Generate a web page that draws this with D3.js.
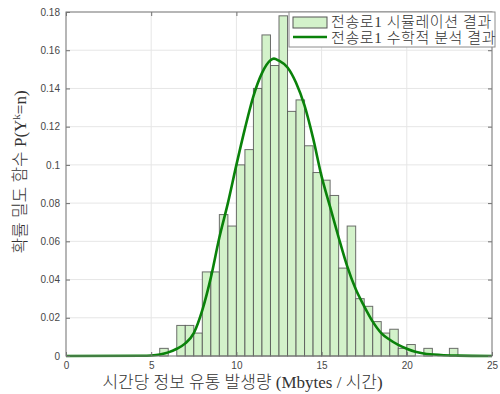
<!DOCTYPE html>
<html>
<head>
<meta charset="utf-8">
<script src="https://cdn.jsdelivr.net/npm/d3@7"></script>
<style>
  body { margin: 0; background: #fff; }
  .tick text { font-family: "Liberation Sans", Arial, sans-serif; font-size: 10px; fill: #474747; }
</style>
</head>
<body>
<div id="chart"></div>
<script>
// Histogram bins (left edge, width 0.5) and probability density per bin
const binStarts = [5.5, 6, 6.5, 7, 7.5, 8, 8.5, 9, 9.5, 10, 10.5, 11, 11.5, 12, 12.5,
  13, 13.5, 14, 14.5, 15, 15.5, 16, 16.5, 17, 17.5, 18, 18.5, 19, 19.5, 20, 20.5,
  21, 21.5, 22, 22.5];
const binWidth = 0.5;
const simValues = [0.004, 0, 0.016, 0.016, 0.012, 0.044, 0.044, 0.074, 0.068, 0.100,
  0.108, 0.140, 0.168, 0.152, 0.178, 0.128, 0.134, 0.110, 0.096, 0.092, 0.084, 0.046,
  0.068, 0.030, 0.026, 0.018, 0.012, 0.014, 0.004, 0.006, 0, 0.004, 0, 0, 0.004];

// Analytic curve
const curveX = [0, 4.5, 5, 5.5, 6, 6.5, 7, 7.5, 8, 8.5, 9, 9.5, 10, 10.5, 11, 11.5, 12,
  12.2, 12.5, 13, 13.5, 14, 14.5, 15, 15.5, 16, 16.5, 17, 17.5, 18, 18.5, 19, 19.5, 20,
  20.5, 21, 22, 23, 25];
const curveY = [0, 0.0001, 0.0003, 0.0008, 0.0019, 0.0038, 0.0066, 0.012, 0.024, 0.041,
  0.062, 0.080, 0.100, 0.119, 0.136, 0.148, 0.1547, 0.1556, 0.1545, 0.151, 0.143, 0.131,
  0.114, 0.094, 0.078, 0.062, 0.047, 0.035, 0.026, 0.018, 0.012, 0.0085, 0.0058, 0.0038,
  0.0022, 0.0013, 0.0005, 0.0002, 0];

const xTicks = [0, 5, 10, 15, 20, 25];
const yTicks = [0, 0.02, 0.04, 0.06, 0.08, 0.1, 0.12, 0.14, 0.16, 0.18];
const legendLabels = ["전송로1 시뮬레이션 결과", "전송로1 수학적 분석 결과"];

const width = 500, height = 394;
const margin = { top: 12, right: 8, bottom: 38, left: 66 };
const plotW = width - margin.left - margin.right;
const plotH = height - margin.top - margin.bottom;

const barFill = "#d3f2ca";
const lineColor = "#0a820a";
const korFont = "'Liberation Serif', 'Noto Sans CJK KR', serif";

const svg = d3.select("#chart")
  .append("svg")
  .attr("width", width)
  .attr("height", height)
  .append("g")
  .attr("transform", `translate(${margin.left},${margin.top})`);

const x = d3.scaleLinear().domain([0, 25]).range([0, plotW]);
const y = d3.scaleLinear().domain([0, 0.18]).range([plotH, 0]);

// grid
svg.append("g")
  .selectAll("line")
  .data(xTicks)
  .join("line")
  .attr("x1", (d) => x(d)).attr("x2", (d) => x(d))
  .attr("y1", 0).attr("y2", plotH)
  .attr("stroke", "#e6e6e6");
svg.append("g")
  .selectAll("line")
  .data(yTicks)
  .join("line")
  .attr("y1", (d) => y(d)).attr("y2", (d) => y(d))
  .attr("x1", 0).attr("x2", plotW)
  .attr("stroke", "#e6e6e6");

// bars (empty bins are not drawn)
svg.append("g")
  .selectAll("rect")
  .data(binStarts.map((b, i) => ({ b, v: simValues[i] })).filter((d) => d.v > 0))
  .join("rect")
  .attr("x", (d) => x(d.b))
  .attr("width", x(binWidth) - x(0))
  .attr("y", (d) => y(d.v))
  .attr("height", (d) => y(0) - y(d.v))
  .attr("fill", barFill)
  .attr("stroke", "#555")
  .attr("stroke-opacity", 0.85)
  .attr("stroke-width", 1);

// curve
const line = d3.line()
  .x((d, i) => x(curveX[i]))
  .y((d) => y(d))
  .curve(d3.curveMonotoneX);

svg.append("path")
  .datum(curveY)
  .attr("fill", "none")
  .attr("stroke", lineColor)
  .attr("stroke-width", 2.6)
  .attr("d", line);

// axes (ticks pointing inwards, on all sides)
const yFmt = (d) => (d === 0 ? "0" : String(+d.toFixed(2)));
svg.append("g")
  .call(d3.axisLeft(y).tickValues(yTicks).tickSize(-4).tickPadding(6).tickFormat(yFmt))
  .call((g) => g.select(".domain").remove());
svg.append("g")
  .attr("transform", `translate(0,${plotH})`)
  .call(d3.axisBottom(x).tickValues(xTicks).tickSize(-4).tickPadding(6))
  .call((g) => g.select(".domain").remove());
svg.append("g")
  .attr("transform", `translate(${plotW},0)`)
  .call(d3.axisRight(y).tickValues(yTicks).tickSize(-4).tickFormat(""))
  .call((g) => g.select(".domain").remove());
svg.append("g")
  .call(d3.axisTop(x).tickValues(xTicks).tickSize(-4).tickFormat(""))
  .call((g) => g.select(".domain").remove());
svg.selectAll(".tick line").attr("stroke", "#6e6e6e");

svg.append("rect")
  .attr("width", plotW)
  .attr("height", plotH)
  .attr("fill", "none")
  .attr("stroke", "#7a7a7a");

// legend
const lg = svg.append("g").attr("transform", `translate(${plotW - 203},0)`);
lg.append("rect")
  .attr("width", 206).attr("height", 35)
  .attr("fill", "#fff").attr("stroke", "#8c8c8c");
lg.append("rect")
  .attr("x", 4).attr("y", 5).attr("width", 34).attr("height", 11)
  .attr("fill", barFill).attr("stroke", "#555");
lg.append("line")
  .attr("x1", 4).attr("x2", 38).attr("y1", 25).attr("y2", 25)
  .attr("stroke", lineColor).attr("stroke-width", 2.6);
lg.selectAll("text")
  .data(legendLabels)
  .join("text")
  .attr("x", 42)
  .attr("y", (d, i) => 15 + i * 16)
  .attr("font-family", korFont)
  .attr("font-weight", 300)
  .attr("font-size", "15px")
  .attr("letter-spacing", "0.6px")
  .attr("fill", "#333")
  .text((d) => d);

// axis titles
svg.append("text")
  .text("시간당 정보 유통 발생량 (Mbytes / 시간)")
  .attr("x", (105 + 380) / 2 - margin.left)
  .attr("y", plotH + 32)
  .attr("text-anchor", "middle")
  .attr("font-family", korFont)
  .attr("font-weight", 300)
  .attr("font-size", "17px")
  .attr("fill", "#333");

const yl = svg.append("text")
  .attr("transform", `translate(${-40},${plotH / 2 - 12}) rotate(-90)`)
  .attr("text-anchor", "middle")
  .attr("font-family", korFont)
  .attr("font-weight", 300)
  .attr("font-size", "17px")
  .attr("fill", "#333");
yl.append("tspan").text("확률 밀도 함수 P(Y");
yl.append("tspan").attr("dy", -6).attr("font-size", "11px").text("k");
yl.append("tspan").attr("dy", 6).text("=n)");
</script>
</body>
</html>
